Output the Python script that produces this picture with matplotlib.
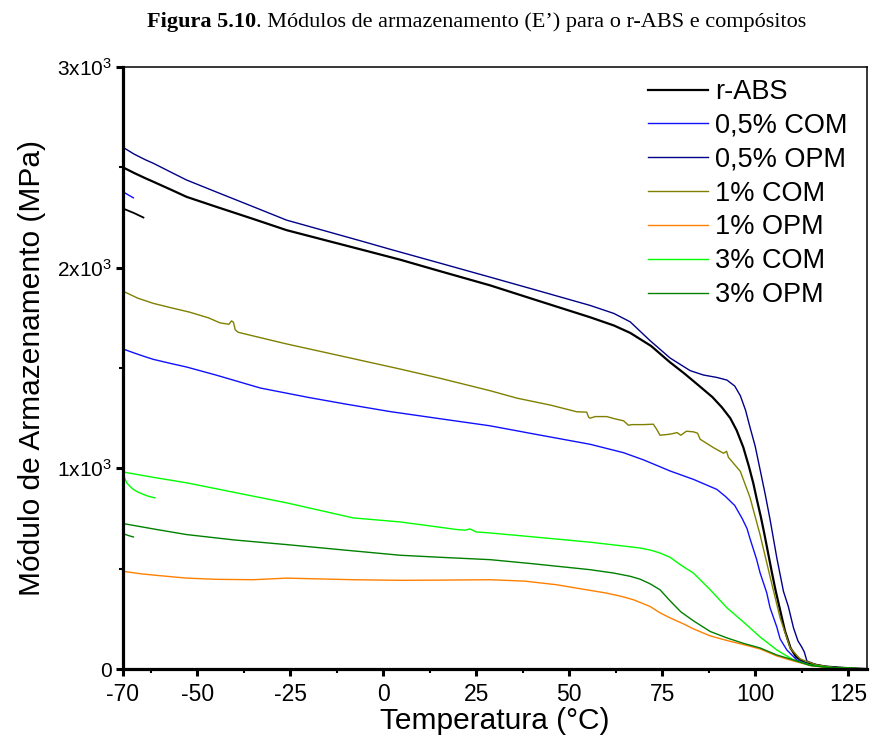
import numpy as np
import matplotlib
matplotlib.use("Agg")
import matplotlib.pyplot as plt
from matplotlib.ticker import FixedLocator, FixedFormatter, MultipleLocator

plt.rcParams['font.family'] = ['Liberation Sans', 'DejaVu Sans']
plt.rcParams['mathtext.default'] = 'regular'
plt.rcParams['axes.unicode_minus'] = False

# storage modulus E' (MPa) vs temperature (°C)
t_rabs = [-70, -67, -64, -61.8, -57, -52.9, -45, -35, -26, -15, -5, 4.5, 15, 28.7, 40, 55.6, 62, 66.4,
          72, 77, 81, 85, 88.5, 91, 93.3, 95, 96.8, 98.3, 99.5, 100.5, 101.5, 102.5, 103.5, 104.5, 105.5,
          106.5, 108, 109.5, 111, 113.5, 119, 125, 130]
e_rabs = [2500, 2472, 2446, 2428, 2388, 2353, 2304, 2243, 2187, 2134, 2086, 2040, 1984, 1912, 1845, 1753,
          1712, 1675, 1610, 1530, 1472, 1410, 1355, 1305, 1250, 1190, 1105, 1010, 925, 840, 760, 670,
          575, 480, 390, 310, 190, 105, 60, 30, 12, 4, 0]

t_05com = [-70, -67, -64, -61.8, -57, -52.9, -45, -33, -20, -10, 1.8, 15, 28.7, 40, 55.6, 64.6, 70,
           74.4, 77.1, 83.4, 89.7, 92, 94.5, 96.5, 97.8, 98.6, 100.4, 101.3, 103.1, 104, 105.8, 106.7,
           108.5, 111.2, 115, 122, 130]
e_05com = [1595, 1575, 1556, 1543, 1522, 1505, 1465, 1400, 1353, 1320, 1283, 1248, 1212, 1173, 1120, 1078,
           1042, 1008, 987, 945, 895, 860, 815, 750, 700, 650, 545, 480, 380, 305, 210, 150, 95, 45, 18,
           5, 0]

t_05opm = [-70, -67, -64, -61.8, -57, -52.9, -45, -35, -26, -15, -5, 1.8, 15, 28.7, 40, 55.6, 62, 66.4,
           71.7, 77.1, 82.5, 86.1, 89.7, 92.4, 94.5, 96, 97.4, 98.6, 100, 101.3, 102.7, 104, 105.8, 107.6,
           108.9, 110.3, 111.5, 112.5, 113.2, 113.9, 116.6, 122, 130]
e_05opm = [2600, 2566, 2538, 2520, 2475, 2437, 2378, 2304, 2237, 2180, 2128, 2092, 2024, 1953, 1894, 1812,
           1772, 1730, 1637, 1550, 1487, 1465, 1453, 1440, 1410, 1362, 1290, 1205, 1110, 995, 870, 745,
           555, 387, 312, 205, 140, 110, 85, 40, 20, 5, 0]

t_1com = [-70, -66, -61.8, -57, -52, -47, -43.9, -41.5, -40.8, -40.3, -39.8, -39, -35, -26, -15, -5, 4.5,
          15, 28.7, 35.9, 45, 52, 54.7, 55.2, 55.6, 57, 60.1, 62, 64.6, 65.9, 67, 70, 72.6, 73.5, 74.4,
          77, 79, 80, 81.5, 83.4, 84.5, 85.2, 88.8, 91.5, 92.3, 92.8, 96, 98.6, 101.3, 104, 106.7, 109.4,
          112.1, 116.6, 122, 130]
e_1com = [1883, 1848, 1822, 1800, 1778, 1750, 1725, 1718, 1735, 1728, 1690, 1678, 1660, 1620, 1575, 1534,
          1495, 1450, 1387, 1350, 1315, 1282, 1280, 1255, 1250, 1258, 1258, 1248, 1237, 1215, 1218, 1218,
          1220, 1195, 1165, 1170, 1178, 1165, 1185, 1182, 1175, 1145, 1103, 1075, 1085, 1055, 985, 855,
          670, 460, 255, 105, 50, 20, 5, 0]

t_1opm = [-70, -65, -60, -52.9, -45, -35, -26, -15, -8.1, 4.5, 15, 28.7, 38, 46.6, 53, 60.1, 64, 67.3,
          71.7, 74.4, 77.1, 80.7, 83.4, 87.9, 92.4, 96.8, 101.3, 105.8, 110.3, 114.7, 119.3, 125, 130]
e_1opm = [487, 474, 465, 453, 447, 445, 453, 448, 445, 442, 443, 445, 438, 420, 400, 378, 362, 345, 312,
          280, 255, 225, 200, 165, 142, 122, 100, 65, 40, 18, 7, 3, 0]

t_3com = [-70, -61.8, -52.9, -40, -26, -15, -8.1, 4.5, 15, 19.8, 22, 23.3, 25, 28.7, 40, 55.6, 65, 69,
          72, 74.4, 77.1, 80, 83.4, 87.9, 92.4, 96.8, 101.3, 105.8, 110.3, 114.7, 120, 130]
e_3com = [982, 955, 928, 880, 828, 782, 753, 733, 707, 695, 692, 698, 683, 678, 659, 632, 612, 603, 592,
          578, 557, 518, 478, 395, 305, 235, 160, 95, 45, 20, 8, 0]

t_3opm = [-70, -61.8, -52.9, -40, -26, -10, 4.5, 15, 28.7, 40, 55.6, 62, 66.4, 69, 71.7, 74.4, 77.1, 80,
          83.4, 87.9, 92.4, 96.8, 101.3, 105.8, 110.3, 114.7, 120, 130]
e_3opm = [725, 698, 670, 643, 620, 592, 567, 557, 545, 525, 495, 478, 462, 448, 425, 395, 340, 285, 240,
          187, 155, 128, 105, 70, 45, 18, 7, 0]

# short repeated segments at the start of some runs
stub_t_rabs = [-70, -67, -64.5]
stub_e_rabs = [2295, 2272, 2250]
stub_t_05opm = [-70, -68.5, -67.2]
stub_e_05opm = [2378, 2362, 2348]
stub_t_3com = [-70, -69.5, -69, -68, -67.2, -66, -64.5, -63, -61.4]
stub_e_3com = [975, 950, 928, 908, 895, 882, 870, 860, 853]
stub_t_3opm = [-70, -68.5, -67.2]
stub_e_3opm = [675, 665, 658]

labels = ['r-ABS', '0,5% COM', '0,5% OPM', '1% COM', '1% OPM', '3% COM', '3% OPM']
colors = ['black', '#1010ff', '#000088', '#808000', '#ff8000', '#00ff00', '#008000']

fig = plt.figure(figsize=(8.72, 7.48), dpi=100)
ax = fig.add_axes([0.141, 0.1056, 0.853, 0.8048])

series = [(t_rabs, e_rabs), (t_05com, e_05com), (t_05opm, e_05opm), (t_1com, e_1com),
          (t_1opm, e_1opm), (t_3com, e_3com), (t_3opm, e_3opm)]
for (t, e), lab, c in zip(series, labels, colors):
    ax.plot(t, e, color=c, lw=1.6 if lab == 'r-ABS' else 1.0, label=lab)

ax.plot(stub_t_rabs, stub_e_rabs, color=colors[0], lw=1.3)
ax.plot(stub_t_05opm, stub_e_05opm, color=colors[1], lw=1.0)
ax.plot(stub_t_3com, stub_e_3com, color=colors[5], lw=1.0)
ax.plot(stub_t_3opm, stub_e_3opm, color=colors[6], lw=1.0)

ax.set_xlim(-70, 130)
ax.set_ylim(0, 3000)

ax.xaxis.set_major_locator(FixedLocator([-70, -50, -25, 0, 25, 50, 75, 100, 125]))
ax.xaxis.set_minor_locator(FixedLocator(np.arange(-62.5, 130, 12.5)))
ax.yaxis.set_major_locator(FixedLocator([0, 1000, 2000, 3000]))
ax.yaxis.set_major_formatter(FixedFormatter(['0', r'$1x10^3$', r'$2x10^3$', r'$3x10^3$']))
ax.yaxis.set_minor_locator(MultipleLocator(500))

ax.tick_params(which='major', direction='out', length=5, width=2.2, pad=3)
ax.tick_params(axis='x', which='major', labelsize=16.5, pad=5)
ax.tick_params(axis='y', which='major', labelsize=15)
ax.tick_params(which='minor', direction='out', length=3, width=1.5)
for side in ['left', 'bottom']:
    ax.spines[side].set_linewidth(2.3)
for side in ['top', 'right']:
    ax.spines[side].set_linewidth(1.1)

ax.set_xlabel('Temperatura (°C)', fontsize=21.5, labelpad=1)
ax.set_ylabel('Módulo de Armazenamento (MPa)', fontsize=21.5, labelpad=8)

ax.legend(loc='upper left', bbox_to_anchor=(648 / 872, 1 - 79 / 748), bbox_transform=fig.transFigure,
          frameon=False, fontsize=19.5, handlelength=2.2, handletextpad=0.28, labelspacing=0.29,
          borderpad=0, borderaxespad=0)

t1 = fig.text(147 / 872, 1 - 27 / 748, 'Figura 5.10', fontsize=16, fontweight='bold',
              family='Liberation Serif', va='baseline', ha='left')
fig.canvas.draw()
ax.annotate('. Módulos de armazenamento (E\u2019) para o r-ABS e compósitos', xy=(1, 0),
            xycoords=t1, va='bottom', ha='left', fontsize=16, family='Liberation Serif',
            annotation_clip=False)

fig.savefig('out.png', dpi=100)
